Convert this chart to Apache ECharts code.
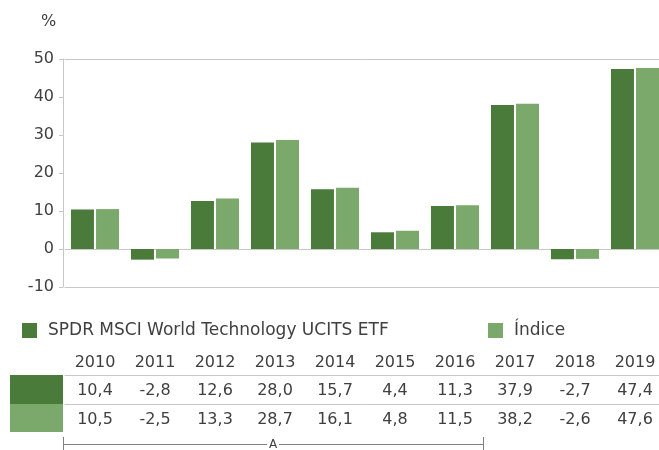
<!DOCTYPE html>
<html>
<head>
<meta charset="utf-8">
<script src="https://cdn.jsdelivr.net/npm/echarts@6/dist/echarts.min.js"></script>
<style>
  html, body { margin: 0; padding: 0; background: #fff; }
  #chart { width: 659px; height: 450px; }
</style>
</head>
<body>
<div id="chart"></div>
<script>
const years = ['2010', '2011', '2012', '2013', '2014', '2015', '2016', '2017', '2018', '2019'];
const etf = [10.4, -2.8, 12.6, 28.0, 15.7, 4.4, 11.3, 37.9, -2.7, 47.4];
const indice = [10.5, -2.5, 13.3, 28.7, 16.1, 4.8, 11.5, 38.2, -2.6, 47.6];
const names = ['SPDR MSCI World Technology UCITS ETF', 'Índice'];

const dark = '#4a7b3b';
const light = '#7aa96b';
const grey = '#c8c8c8';
const txt = '#404040';
const font = 'DejaVu Sans';

// comma decimals like in the picture
const fmt = v => v.toFixed(1).replace('.', ',');

const chart = echarts.init(document.getElementById('chart'));

// category axes used as table rows under the plot
function rowAxis(data, offset, margin, line) {
    return {
        type: 'category',
        position: 'bottom',
        data: data,
        offset: offset,
        axisLine: { show: line, onZero: false, lineStyle: { color: grey, width: 1 } },
        axisTick: { show: false },
        axisLabel: { show: true, margin: margin, color: txt, fontSize: 16, fontFamily: font, verticalAlign: 'middle' }
    };
}

var option = {
    animation: false,
    textStyle: { fontFamily: font },
    title: {
        text: '%',
        left: 36,
        top: 9,
        textStyle: { color: txt, fontSize: 16, fontWeight: 'normal', fontFamily: font }
    },
    legend: [{
        data: [names[0]],
        left: 22,
        top: 322,
        padding: 0,
        itemWidth: 15,
        itemHeight: 15,
        icon: 'rect',
        textStyle: { color: txt, fontSize: 17, fontFamily: font, padding: [0, 0, 0, 6] }
    }, {
        data: [names[1]],
        left: 488,
        top: 322,
        padding: 0,
        itemWidth: 15,
        itemHeight: 15,
        icon: 'rect',
        textStyle: { color: txt, fontSize: 17, fontFamily: font, padding: [0, 0, 0, 6] }
    }],
    grid: {
        left: 65,
        right: -6,
        top: 59,
        bottom: 163,
        outerBoundsMode: 'none'
    },
    xAxis: [{
        type: 'category',
        data: years,
        axisLine: { onZero: true, lineStyle: { color: grey, width: 1 } },
        axisTick: { show: false },
        axisLabel: { show: false }
    }, {
        // top border line
        type: 'category',
        position: 'top',
        data: years,
        axisLine: { onZero: false, lineStyle: { color: grey, width: 1 } },
        axisTick: { show: false },
        axisLabel: { show: false }
    },
        rowAxis(years, 0, 76, true),
        rowAxis(etf.map(fmt), 88, 16, true),
        rowAxis(indice.map(fmt), 117, 16, true)
    ],
    yAxis: {
        type: 'value',
        min: -10,
        max: 50,
        interval: 10,
        offset: 2,
        axisLine: { show: true, lineStyle: { color: grey } },
        axisTick: { show: true, length: 4, lineStyle: { color: grey } },
        splitLine: { show: false },
        axisLabel: { color: txt, fontSize: 16, fontFamily: font, margin: 9 }
    },
    series: [{
        name: names[0],
        type: 'bar',
        data: etf,
        barWidth: 23,
        barGap: '9%',
        itemStyle: { color: dark }
    }, {
        name: names[1],
        type: 'bar',
        data: indice,
        barWidth: 23,
        itemStyle: { color: light }
    }],
    graphic: [
        { type: 'rect', shape: { x: 10, y: 375, width: 53, height: 29 }, style: { fill: dark } },
        { type: 'rect', shape: { x: 10, y: 404, width: 53, height: 28 }, style: { fill: light } },
        // bracket under the table
        { type: 'line', shape: { x1: 63, y1: 444.5, x2: 483, y2: 444.5 }, style: { stroke: '#808080', lineWidth: 1 } },
        { type: 'line', shape: { x1: 63.5, y1: 437, x2: 63.5, y2: 450 }, style: { stroke: '#808080', lineWidth: 1 } },
        { type: 'line', shape: { x1: 483.5, y1: 437, x2: 483.5, y2: 450 }, style: { stroke: '#808080', lineWidth: 1 } },
        { type: 'rect', shape: { x: 267, y: 438, width: 12, height: 12 }, style: { fill: '#fff' } },
        { type: 'text', x: 273, y: 445, style: { text: 'A', fill: txt, fontSize: 12, fontFamily: font, align: 'center', verticalAlign: 'middle' } }
    ]
};

chart.setOption(option);
</script>
</body>
</html>
